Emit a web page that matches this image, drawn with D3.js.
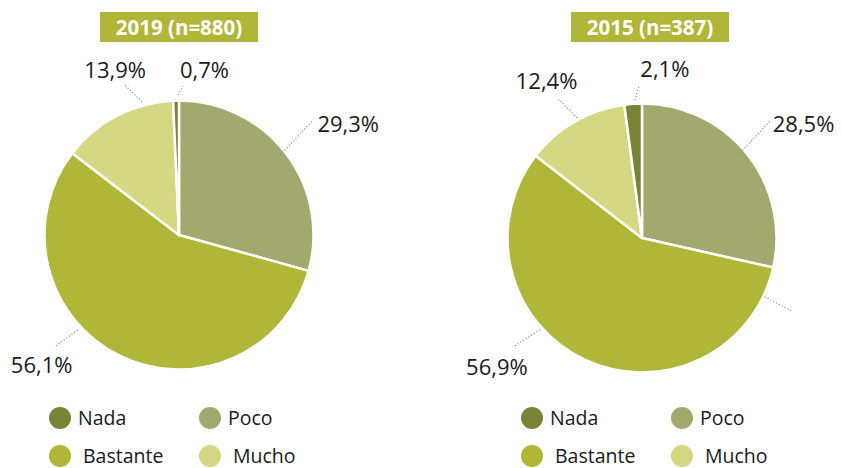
<!DOCTYPE html>
<html>
<head>
<meta charset="utf-8">
<script src="https://cdn.jsdelivr.net/npm/d3@7"></script>
<style>
  html, body { margin: 0; padding: 0; background: #ffffff; }
  svg { display: block; }
  text { font-family: "Open Sans", "Noto Sans", sans-serif; }
</style>
</head>
<body>
<svg id="chart" width="841" height="468"></svg>
<script>
// Response categories, in drawing order (clockwise from 12 o'clock)
const categories = ["Poco", "Bastante", "Mucho", "Nada"];
// Legend order
const legendOrder = ["Nada", "Poco", "Bastante", "Mucho"];
// Share of responses (%) per survey year
const values2019 = [29.3, 56.1, 13.9, 0.7];
const values2015 = [28.5, 56.9, 12.4, 2.1];
const years = ["2019", "2015"];
const sampleSizes = [880, 387];

const colors = d3.scaleOrdinal()
  .domain(["Nada", "Poco", "Bastante", "Mucho"])
  .range(["#7a8235", "#a3a86f", "#b0b638", "#d4d882"]);

// Panel placement
const panels = [
  { values: values2019, cx: 179, cy: 235, titleX: 179, legendX: 60,
    // leader lines: start angle/radius, end angle/radius, label offset from end
    leaders: [
      { cat: "Poco",     a1: 51.6,  r1: 129, a2: 49.4,  r2: 177, dx: 4,   dy: 12, anchor: "start" },
      { cat: "Bastante", a1: 226.8, r1: 139, a2: 228,   r2: 166, dx: -14, dy: 27, anchor: "middle" },
      { cat: "Mucho",    a1: 344.5, r1: 138, a2: 340.2, r2: 159, dx: -10, dy: -7, anchor: "middle" },
      { cat: "Nada",     a1: 359.6, r1: 140, a2: 1.5,   r2: 149, dx: -3,  dy: -8, anchor: "start" }
    ] },
  { values: values2015, cx: 642, cy: 238, titleX: 650, legendX: 532,
    leaders: [
      { cat: "Poco",     a1: 49.2,  r1: 127,   a2: 47.6,  r2: 173, dx: 3,   dy: 11,  anchor: "start" },
      { cat: "Bastante", a1: 228,   r1: 137,   a2: 229.8, r2: 169, dx: -16, dy: 28,  anchor: "middle" },
      { cat: "Mucho",    a1: 331.6, r1: 136.5, a2: 329,   r2: 162, dx: -12, dy: -10, anchor: "middle" },
      { cat: "Nada",     a1: 357,   r1: 138,   a2: 359,   r2: 153, dx: 1,   dy: -8,  anchor: "start" },
      // unlabeled leader
      { cat: null,       a1: 115.6, r1: 136,   a2: 116,   r2: 168 }
    ] }
];

const radius = 134.5;
const svg = d3.select("#chart");

const pie = d3.pie().sort(null).value(d => d.value);
const arc = d3.arc().innerRadius(0).outerRadius(radius);
const fmt = v => d3.format(".1f")(v).replace(".", ",") + "%";

function polar(cx, cy, deg, r) {
  const a = deg * Math.PI / 180;
  return [cx + r * Math.sin(a), cy - r * Math.cos(a)];
}

panels.forEach((p, i) => {
  const data = categories.map((c, k) => ({ cat: c, value: p.values[k] }));
  const g = svg.append("g");

  // Title box
  const tb = g.append("g").attr("transform", `translate(${p.titleX},27)`);
  tb.append("rect").attr("x", -79).attr("y", -15).attr("width", 158).attr("height", 30)
    .attr("fill", "#b0b638");
  tb.append("text").attr("text-anchor", "middle").attr("y", 8)
    .attr("fill", "#ffffff").attr("font-weight", 700).attr("font-size", 20.5)
    .text(`${years[i]} (n=${sampleSizes[i]})`);

  // Slices
  g.append("g").attr("transform", `translate(${p.cx},${p.cy})`)
    .selectAll("path").data(pie(data)).join("path")
    .attr("d", arc)
    .attr("fill", d => colors(d.data.cat))
    .attr("stroke", "#ffffff").attr("stroke-width", 2.5).attr("stroke-linejoin", "round");

  // Leader lines and value labels
  p.leaders.forEach(l => {
    const s = polar(p.cx, p.cy, l.a1, l.r1);
    const e = polar(p.cx, p.cy, l.a2, l.r2);
    g.append("line")
      .attr("x1", s[0]).attr("y1", s[1]).attr("x2", e[0]).attr("y2", e[1])
      .attr("stroke", "#8a8a8a").attr("stroke-width", 1.1).attr("stroke-dasharray", "1.2 2");
    if (l.cat) {
      const v = p.values[categories.indexOf(l.cat)];
      g.append("text").attr("x", e[0] + l.dx).attr("y", e[1] + l.dy)
        .attr("text-anchor", l.anchor).attr("font-size", 22).attr("fill", "#1a1a1a")
        .text(fmt(v));
    }
  });

  // Legend (2 x 2)
  const lg = g.append("g").attr("transform", `translate(${p.legendX},418)`);
  legendOrder.forEach((c, k) => {
    const col = k % 2, row = Math.floor(k / 2);
    const item = lg.append("g").attr("transform", `translate(${col * 150},${row * 38})`);
    item.append("circle").attr("r", 11).attr("fill", colors(c));
    item.append("text").attr("x", row === 1 ? 23 : 18).attr("y", 7)
      .attr("font-size", 19.5).attr("fill", "#1a1a1a").text(c);
  });
});
</script>
</body>
</html>
